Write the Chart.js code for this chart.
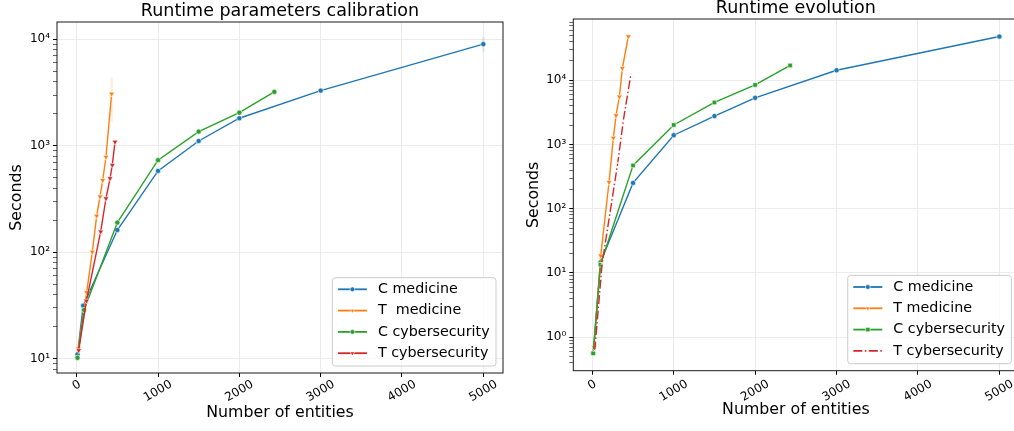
<!DOCTYPE html>
<html>
<head>
<meta charset="utf-8">
<script src="https://cdn.jsdelivr.net/npm/chart.js@4.4.0/dist/chart.umd.min.js"></script>
<style>
html, body { margin: 0; padding: 0; background: #fff; overflow: hidden; width: 1014px; height: 431px; }
.panel { position: absolute; }
#leftPanel { left: 0; top: 0; width: 510px; height: 431px; }
#rightPanel { left: 515px; top: -3px; width: 512px; height: 434px; }
</style>
</head>
<body>
<div class="panel" id="leftPanel"><canvas id="calibrationChart"></canvas></div>
<div class="panel" id="rightPanel"><canvas id="evolutionChart"></canvas></div>
<script>
// Données
const labelsLeft = ['C medicine', 'T  medicine', 'C cybersecurity', 'T cybersecurity'];
const labelsRight = ['C medicine', 'T medicine', 'C cybersecurity', 'T cybersecurity'];
const xTicks = [0, 1000, 2000, 3000, 4000, 5000];
const yMajorLeft = [10, 100, 1000, 10000];
const yMajorRight = [1, 10, 100, 1000, 10000];
const yTickLabels = { 1: '10⁰', 10: '10¹', 100: '10²', 1000: '10³', 10000: '10⁴' };

// Runtime parameters calibration
const calCMedX = [10, 80, 500, 1000, 1500, 2000, 3000, 5000];
const calCMedY = [11, 31.5, 162, 581, 1110, 1815, 3300, 9020];
const calTMedX = [20, 123, 192, 246, 287, 320, 360, 430];
const calTMedY = [12.5, 42, 101, 220, 333, 475, 785, 3080];
const calCCybX = [10, 90, 500, 1000, 1500, 2000, 2430];
const calCCybY = [10.2, 28.7, 190, 733, 1360, 2050, 3210];
const calTCybX = [25, 120, 295, 360, 410, 438, 471];
const calTCybY = [12, 35, 156, 320, 495, 660, 1090];
const calTMedBandX = [430, 430];
const calTMedBandY = [1690, 4350];
const calCMedBandX = [5000, 5000];
const calCMedBandY = [7640, 10500];

// Runtime evolution
const evoCMedX = [10, 100, 500, 1000, 1500, 2000, 3000, 5000];
const evoCMedY = [0.56, 14.6, 252, 1393, 2770, 5330, 14300, 47900];
const evoTMedX = [20, 103, 205, 258, 291, 332, 369, 442];
const evoTMedY = [0.7, 18.5, 258, 1265, 2830, 5530, 15400, 48000];
const evoCCybX = [10, 100, 500, 1000, 1500, 2000, 2430];
const evoCCybY = [0.56, 13.4, 472, 2010, 4510, 8460, 17000];
const evoTCybX = [30, 120, 312, 381, 476];
const evoTCybY = [0.62, 14, 514, 2380, 12900];

const BLUE = '#1f77b4', ORANGE = '#ff7f0e', GREEN = '#2ca02c', RED = '#d62728';
const FONT = '"DejaVu Sans", sans-serif';

function points(xs, ys) {
    return xs.map((x, i) => ({ x: x, y: ys[i] }));
}

function lineSeries(label, xs, ys, color, shape, order, extra) {
    const radius = shape === 'rect' ? 3.2 : (shape === 'triangle' ? 3.3 : 2.6);
    return Object.assign({
        label: label,
        data: points(xs, ys),
        borderColor: color,
        backgroundColor: color,
        borderWidth: 1.4,
        pointStyle: shape,
        pointRotation: shape === 'triangle' ? 180 : 0,
        pointRadius: radius,
        pointHoverRadius: radius,
        pointBackgroundColor: color,
        pointBorderColor: '#fff',
        pointBorderWidth: 0.6,
        tension: 0,
        fill: false,
        order: order
    }, extra || {});
}

function bandSeries(xs, ys, color) {
    return {
        label: '', band: true, data: points(xs, ys),
        borderColor: color, borderWidth: 2.5, pointRadius: 0, order: 10, fill: false
    };
}

function logTicks(min, max) {
    const ticks = [];
    for (let e = Math.floor(Math.log10(min)); e <= Math.ceil(Math.log10(max)); e++) {
        for (let m = 1; m <= 9; m++) {
            const v = +(m * Math.pow(10, e)).toPrecision(6);
            if (v >= min && v <= max) ticks.push(v);
        }
    }
    return ticks;
}

function drawMarker(ctx, shape, x, y, color) {
    ctx.save();
    ctx.fillStyle = color;
    ctx.strokeStyle = '#fff';
    ctx.lineWidth = 0.6;
    ctx.setLineDash([]);
    ctx.beginPath();
    if (shape === 'circle') {
        ctx.arc(x, y, 2.4, 0, Math.PI * 2);
    } else if (shape === 'triangle') {
        const r = 2.6;
        ctx.moveTo(x, y + r);
        ctx.lineTo(x - r * 0.87, y - r * 0.5);
        ctx.lineTo(x + r * 0.87, y - r * 0.5);
        ctx.closePath();
    } else if (shape === 'rect') {
        ctx.rect(x - 2.2, y - 2.2, 4.4, 4.4);
    } else {
        ctx.restore();
        return;
    }
    ctx.fill();
    ctx.stroke();
    ctx.restore();
}

// Cadre, étiquettes de l'axe x et légende
const framePlugin = {
    id: 'frame',
    afterDraw(chart, args, opts) {
        const ctx = chart.ctx;
        const ca = chart.chartArea;
        ctx.save();

        ctx.strokeStyle = '#1a1a1a';
        ctx.lineWidth = 1;
        ctx.strokeRect(ca.left, ca.top, ca.right - ca.left, ca.bottom - ca.top);

        // étiquettes x tournées de 30°
        const xs = chart.scales.x;
        ctx.font = '12px ' + FONT;
        ctx.fillStyle = '#000';
        ctx.textAlign = 'center';
        ctx.textBaseline = 'middle';
        xTicks.forEach(v => {
            const px = xs.getPixelForValue(v);
            const txt = String(v);
            const w = ctx.measureText(txt).width;
            const h = w * 0.5 + 10.4 * 0.866;
            ctx.save();
            ctx.translate(px, ca.bottom + opts.tickGap + h / 2);
            ctx.rotate(-Math.PI / 6);
            ctx.fillText(txt, 0, 0);
            ctx.restore();
        });

        // légende
        const items = chart.data.datasets.filter(d => !d.band);
        ctx.font = '14.3px ' + FONT;
        const maxW = Math.max.apply(null, items.map(d => ctx.measureText(d.label).width));
        const w = 5.6 + 29 + 11 + maxW + 6.4;
        const h = 88.3;
        const x0 = ca.right - 7 - w;
        const y0 = ca.bottom - 7 - h;
        ctx.beginPath();
        ctx.roundRect(x0, y0, w, h, 3);
        ctx.fillStyle = 'rgba(255,255,255,0.8)';
        ctx.fill();
        ctx.strokeStyle = '#cccccc';
        ctx.lineWidth = 1;
        ctx.stroke();

        items.forEach((d, i) => {
            const cy = y0 + 11.6 + i * 21.3;
            ctx.strokeStyle = d.borderColor;
            ctx.lineWidth = 1.8;
            ctx.setLineDash(d.borderDash || []);
            ctx.beginPath();
            ctx.moveTo(x0 + 5.6, cy);
            ctx.lineTo(x0 + 34.6, cy);
            ctx.stroke();
            ctx.setLineDash([]);
            drawMarker(ctx, d.pointStyle, x0 + 20.1, cy, d.borderColor);
            ctx.fillStyle = '#000';
            ctx.textAlign = 'left';
            ctx.textBaseline = 'middle';
            ctx.fillText(d.label, x0 + 45.6, cy);
        });
        ctx.restore();
    }
};

function makeConfig(cfg) {
    const yTickList = logTicks(cfg.yMin, cfg.yMax);
    return {
        type: 'line',
        data: { datasets: cfg.datasets },
        options: {
            responsive: true,
            maintainAspectRatio: false,
            animation: false,
            events: [],
            layout: { padding: { left: 0, right: cfg.padRight, top: 0, bottom: 0 } },
            plugins: {
                legend: { display: false },
                tooltip: { enabled: false },
                title: {
                    display: true,
                    text: cfg.title,
                    fullSize: false,
                    color: '#000',
                    font: { family: FONT, size: 17.5, weight: 'normal' },
                    padding: { top: 1, bottom: 0 }
                },
                frame: { tickGap: cfg.tickGap }
            },
            scales: {
                x: {
                    type: 'linear',
                    min: cfg.xMin,
                    max: cfg.xMax,
                    afterBuildTicks: scale => { scale.ticks = xTicks.map(v => ({ value: v })); },
                    afterFit: scale => { scale.height = cfg.xAxisHeight; },
                    ticks: { display: false },
                    grid: { color: '#ebebeb', tickColor: '#000', tickLength: 4, lineWidth: 1 },
                    border: { display: false },
                    title: {
                        display: true,
                        text: 'Number of entities',
                        color: '#000',
                        font: { family: FONT, size: 15.8 },
                        padding: { top: 0, bottom: cfg.xTitlePad }
                    }
                },
                y: {
                    type: 'logarithmic',
                    min: cfg.yMin,
                    max: cfg.yMax,
                    afterBuildTicks: scale => { scale.ticks = yTickList.map(v => ({ value: v })); },
                    afterFit: scale => { scale.width = cfg.yAxisWidth; },
                    ticks: {
                        autoSkip: false,
                        padding: 3,
                        color: '#000',
                        font: { family: FONT, size: 12 },
                        callback: v => yTickLabels[v] || ''
                    },
                    grid: {
                        tickLength: 4,
                        tickColor: '#000',
                        color: c => (c.tick && cfg.yMajor.includes(c.tick.value)) ? '#ebebeb' : 'rgba(0,0,0,0)',
                        tickWidth: c => (c.tick && cfg.yMajor.includes(c.tick.value)) ? 1 : 0.6
                    },
                    border: { display: false },
                    title: {
                        display: true,
                        text: 'Seconds',
                        color: '#000',
                        font: { family: FONT, size: 15.8 },
                        padding: { top: cfg.yTitlePad, bottom: 0 }
                    }
                }
            }
        },
        plugins: [framePlugin]
    };
}

new Chart(document.getElementById('calibrationChart'), makeConfig({
    title: 'Runtime parameters calibration',
    xMin: -242, xMax: 5242,
    yMin: 7.35, yMax: 14550,
    yMajor: yMajorLeft,
    padRight: 7,
    yAxisWidth: 57,
    xAxisHeight: 58,
    xTitlePad: 8.2,
    yTitlePad: 7.5,
    tickGap: 6,
    datasets: [
        bandSeries(calTMedBandX, calTMedBandY, 'rgba(255,127,14,0.13)'),
        bandSeries(calCMedBandX, calCMedBandY, 'rgba(31,119,180,0.13)'),
        lineSeries(labelsLeft[0], calCMedX, calCMedY, BLUE, 'circle', 4),
        lineSeries(labelsLeft[1], calTMedX, calTMedY, ORANGE, 'triangle', 3),
        lineSeries(labelsLeft[2], calCCybX, calCCybY, GREEN, 'circle', 2),
        lineSeries(labelsLeft[3], calTCybX, calTCybY, RED, 'triangle', 1)
    ]
}));

new Chart(document.getElementById('evolutionChart'), makeConfig({
    title: 'Runtime evolution',
    xMin: -234, xMax: 5234,
    yMin: 0.32, yMax: 89900,
    yMajor: yMajorRight,
    padRight: 8.6,
    yAxisWidth: 58.3,
    xAxisHeight: 60.3,
    xTitlePad: 11.2,
    yTitlePad: 9.1,
    tickGap: 8,
    datasets: [
        lineSeries(labelsRight[0], evoCMedX, evoCMedY, BLUE, 'circle', 4),
        lineSeries(labelsRight[1], evoTMedX, evoTMedY, ORANGE, 'triangle', 3),
        lineSeries(labelsRight[2], evoCCybX, evoCCybY, GREEN, 'rect', 2),
        lineSeries(labelsRight[3], evoTCybX, evoTCybY, RED, 'crossRot', 1, {
            borderDash: [9, 2.5, 1.5, 2.5],
            pointRadius: 2,
            pointBorderColor: '#fff',
            pointBorderWidth: 0.8
        })
    ]
}));
</script>
</body>
</html>
